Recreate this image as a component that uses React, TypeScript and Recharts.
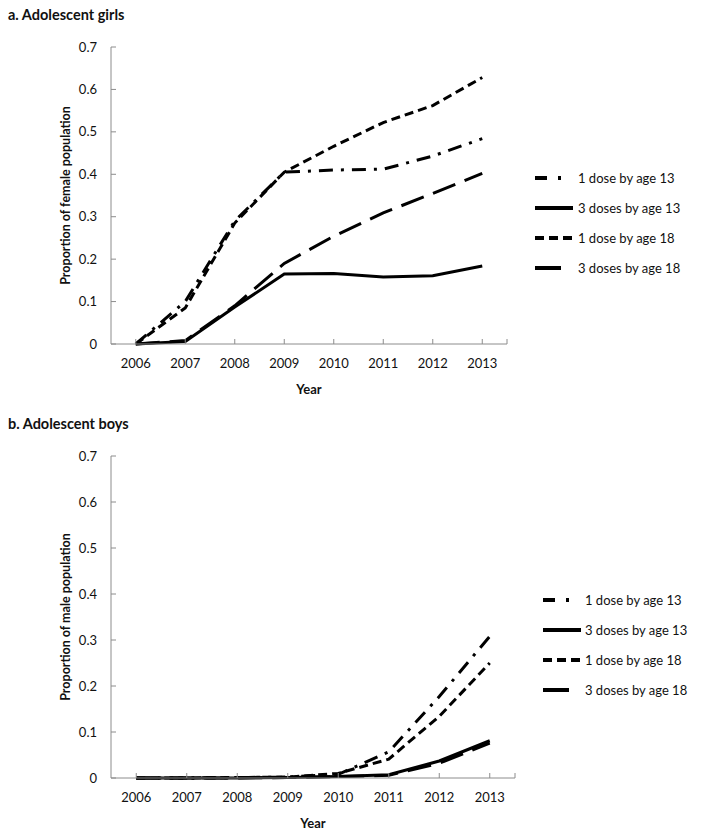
import { LineChart, Line, XAxis, YAxis, Legend, Label } from 'recharts';

const YEARS = ['2006', '2007', '2008', '2009', '2010', '2011', '2012', '2013'];
const Y_TICKS = [0, 0.1, 0.2, 0.3, 0.4, 0.5, 0.6, 0.7];

// a. girls
const GIRLS_1DOSE_13 = [0, 0.1, 0.29, 0.405, 0.41, 0.412, 0.443, 0.484];
const GIRLS_3DOSE_13 = [0, 0.006, 0.087, 0.165, 0.166, 0.158, 0.161, 0.184];
const GIRLS_1DOSE_18 = [0, 0.085, 0.285, 0.405, 0.466, 0.522, 0.562, 0.628];
const GIRLS_3DOSE_18 = [0, 0.008, 0.09, 0.19, 0.254, 0.309, 0.355, 0.402];

// b. boys
const BOYS_1DOSE_13 = [0, 0, 0.001, 0.002, 0.008, 0.057, 0.177, 0.308];
const BOYS_3DOSE_13 = [0, 0, 0, 0.001, 0.003, 0.007, 0.037, 0.081];
const BOYS_1DOSE_18 = [0, 0, 0.001, 0.002, 0.01, 0.041, 0.134, 0.25];
const BOYS_3DOSE_18 = [0, 0, 0, 0.001, 0.003, 0.006, 0.032, 0.076];

const FONT = 'Lato, "Open Sans", sans-serif';
const AXIS_GREY = '#8c8c8c';

// line style per series; legend uses its own shorter pattern
const SERIES = [
  { key: 'd1a13', name: '1 dose by age 13', dash: '14 8 3 8', legendDash: '12 11 3 30' },
  { key: 'd3a13', name: '3 doses by age 13', dash: undefined, legendDash: undefined },
  { key: 'd1a18', name: '1 dose by age 18', dash: '9 5', legendDash: '9 5' },
  { key: 'd3a18', name: '3 doses by age 18', dash: '24 10', legendDash: '26 30' },
];

const toRows = (a: number[], b: number[], c: number[], d: number[]) =>
  YEARS.map((year, i) => ({ year, d1a13: a[i], d3a13: b[i], d1a18: c[i], d3a18: d[i] }));

const GIRLS = toRows(GIRLS_1DOSE_13, GIRLS_3DOSE_13, GIRLS_1DOSE_18, GIRLS_3DOSE_18);
const BOYS = toRows(BOYS_1DOSE_13, BOYS_3DOSE_13, BOYS_1DOSE_18, BOYS_3DOSE_18);

// x ticks point up into the plot, with a closing tick at the right end of the axis
function XTick(props: any) {
  const { x, y, payload, index, visibleTicksCount } = props;
  const axisY = y - 15;
  const last = index === (visibleTicksCount ?? YEARS.length) - 1;
  return (
    <g>
      <line x1={x} x2={x} y1={axisY} y2={axisY - 5} stroke={AXIS_GREY} />
      {last && payload.offset ? (
        <line x1={x + payload.offset} x2={x + payload.offset} y1={axisY} y2={axisY - 5} stroke={AXIS_GREY} />
      ) : null}
      <text x={x} y={y} dy="0.71em" textAnchor="middle" fontSize={13} fill="#111" fontFamily={FONT}>
        {payload.value}
      </text>
    </g>
  );
}

// y ticks point right into the plot
function YTick(props: any) {
  const { x, y, payload } = props;
  const axisX = x + 14;
  return (
    <g>
      <line x1={axisX} x2={axisX + 5} y1={y} y2={y} stroke={AXIS_GREY} />
      <text x={x} y={y} dy="0.35em" textAnchor="end" fontSize={13} fill="#111" fontFamily={FONT}>
        {payload.value === 0 ? '0' : payload.value.toFixed(1)}
      </text>
    </g>
  );
}

const renderYLabel = (text: string) => (props: any) => {
  const vb = props.viewBox;
  const cx = vb.x + vb.width * 0.59;
  const cy = vb.y + vb.height / 2;
  return (
    <text x={cx} y={cy} transform={`rotate(-90 ${cx} ${cy})`} textAnchor="middle" dominantBaseline="central"
      fontSize={12.5} fontWeight={700} fill="#111" fontFamily={FONT}>
      {text}
    </text>
  );
};

const renderXLabel = (props: any) => {
  const vb = props.viewBox;
  return (
    <text x={vb.x + vb.width / 2} y={vb.y + 45} textAnchor="middle" dominantBaseline="central"
      fontSize={13} fontWeight={700} fill="#111" fontFamily={FONT}>
      Year
    </text>
  );
};

function LegendBox({ gap }: { gap: number }) {
  return (
    <div style={{ fontFamily: FONT, fontSize: 13, color: '#111' }}>
      {SERIES.map((s) => (
        <div key={s.key} style={{ display: 'flex', alignItems: 'center', height: 30 }}>
          <svg width={38} height={8} style={{ marginRight: gap }}>
            <line x1={0} x2={38} y1={4} y2={4} stroke="#000" strokeWidth={4} strokeDasharray={s.legendDash} />
          </svg>
          <span>{s.name}</span>
        </div>
      ))}
    </div>
  );
}

interface PanelProps {
  data: typeof GIRLS;
  yLabel: string;
  width: number;
  height: number;
  rightMargin: number;
  xAxisHeight: number;
  legendLeft: number;
  legendTop: number;
  legendGap: number;
}

function Panel({ data, yLabel, width, height, rightMargin, xAxisHeight, legendLeft, legendTop, legendGap }: PanelProps) {
  return (
    <LineChart width={width} height={height} data={data} margin={{ top: 47, right: rightMargin, bottom: 0, left: 0 }}>
      <XAxis
        dataKey="year"
        scale="band"
        height={xAxisHeight}
        axisLine={{ stroke: AXIS_GREY }}
        tickLine={false}
        tickSize={6}
        tickMargin={9}
        tick={<XTick />}
        interval={0}
        label={<Label content={renderXLabel} />}
      />
      <YAxis
        width={111}
        domain={[0, 0.7]}
        ticks={Y_TICKS}
        axisLine={{ stroke: AXIS_GREY }}
        tickLine={false}
        tickSize={6}
        tickMargin={8}
        tick={<YTick />}
        interval={0}
        label={<Label content={renderYLabel(yLabel)} />}
      />
      <Legend
        layout="vertical"
        align="center"
        verticalAlign="middle"
        content={() => <LegendBox gap={legendGap} />}
        wrapperStyle={{ left: legendLeft, top: legendTop, width: 170 }}
      />
      {SERIES.map((s) => (
        <Line
          key={s.key}
          type="linear"
          dataKey={s.key}
          name={s.name}
          stroke="#000"
          strokeWidth={3}
          strokeDasharray={s.dash}
          dot={false}
          activeDot={false}
          isAnimationActive={false}
        />
      ))}
    </LineChart>
  );
}

const titleStyle: React.CSSProperties = {
  position: 'absolute',
  left: 8,
  fontFamily: FONT,
  fontWeight: 700,
  fontSize: 14.5,
  color: '#111',
};

export default function App() {
  return (
    <div style={{ position: 'absolute', left: 0, top: 0, width: 704, height: 836, background: '#fff' }}>
      <div style={{ ...titleStyle, top: 6 }}>a. Adolescent girls</div>
      <div style={{ position: 'absolute', left: 0, top: 0 }}>
        <Panel data={GIRLS} yLabel="Proportion of female population" width={704} height={400}
          rightMargin={197} xAxisHeight={56} legendLeft={535} legendTop={163} legendGap={5} />
      </div>
      <div style={{ ...titleStyle, top: 415 }}>b. Adolescent boys</div>
      <div style={{ position: 'absolute', left: 0, top: 409 }}>
        <Panel data={BOYS} yLabel="Proportion of male population" width={704} height={427}
          rightMargin={189} xAxisHeight={58} legendLeft={543} legendTop={176} legendGap={4} />
      </div>
    </div>
  );
}
